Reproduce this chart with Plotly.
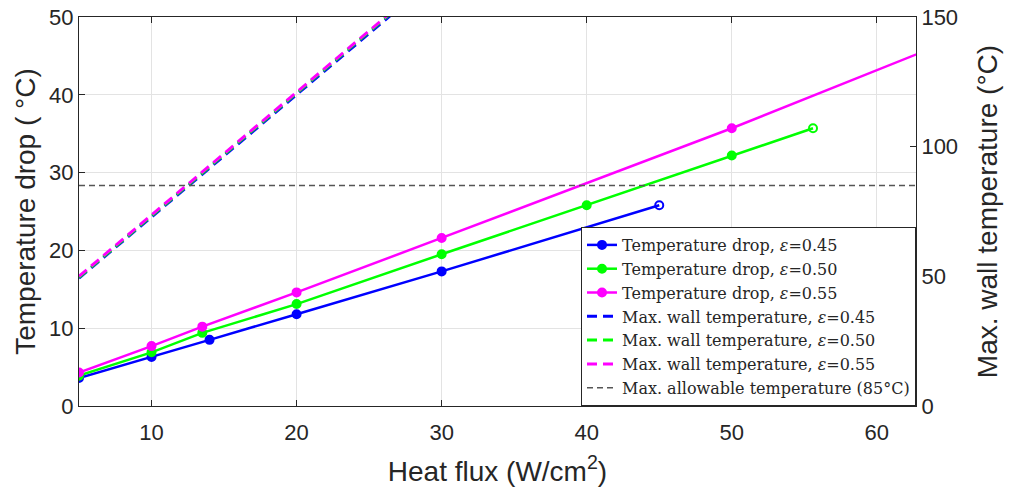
import plotly.graph_objects as go

# ---- data ----
x_045 = [5, 10, 14, 20, 30, 45]
drop_045 = [3.6, 6.3, 8.5, 11.8, 17.3, 25.8]
wall_045 = [49.3, 72.9, 91.8, 120.2, 167.4, 238.0]

x_050 = [5, 10, 13.5, 20, 30, 40, 50, 55.6]
drop_050 = [3.9, 6.9, 9.4, 13.1, 19.5, 25.8, 32.2, 35.7]
wall_050 = [49.6, 73.3, 89.9, 120.6, 168.0, 215.0, 262.0, 289.0]

x_055 = [5, 10, 13.5, 20, 30, 50, 65]
drop_055 = [4.3, 7.7, 10.2, 14.6, 21.6, 35.7, 46.9]
wall_055 = [50.0, 73.7, 90.3, 121.0, 168.4, 263.0, 334.0]

limit_x = [5, 62.7]
limit_temp = 85

eps_labels = ["0.45", "0.50", "0.55"]
colors = ["#0000ff", "#00ff00", "#ff00ff"]

x_ticks = [10, 20, 30, 40, 50, 60]
y_ticks = [0, 10, 20, 30, 40, 50]
y2_ticks = [0, 50, 100, 150]

AX = "#262626"

fig = go.Figure()

series = [(x_045, drop_045, wall_045), (x_050, drop_050, wall_050), (x_055, drop_055, wall_055)]

for (xs, ds, ws), eps, c in zip(series, eps_labels, colors):
    symbols = ["circle"] * (len(xs) - 1) + ["circle-open"]
    fig.add_trace(go.Scatter(
        x=xs, y=ds, mode="lines+markers",
        name=f"Temperature drop, <i>ε</i>=" + eps,
        line=dict(color=c, width=2.5),
        marker=dict(symbol=symbols, size=8, color=c, line=dict(color=c, width=2)),
        yaxis="y",
    ))

for (xs, ds, ws), eps, c in zip(series, eps_labels, colors):
    fig.add_trace(go.Scatter(
        x=xs, y=ws, mode="lines",
        name=f"Max. wall temperature, <i>ε</i>=" + eps,
        line=dict(color=c, width=3, dash="10px,6px"),
        yaxis="y2",
    ))

fig.add_trace(go.Scatter(
    x=limit_x, y=[limit_temp] * len(limit_x), mode="lines",
    name="Max. allowable temperature (85°C)",
    line=dict(color="#555555", width=1.5, dash="6px,4px"),
    yaxis="y2",
))

fig.update_layout(
    width=1013, height=493,
    margin=dict(l=79, r=97, t=17, b=87),
    paper_bgcolor="white", plot_bgcolor="white",
    font=dict(family="Liberation Sans", color=AX, size=22),
    showlegend=True,
    legend=dict(
        x=1, y=0, xanchor="right", yanchor="bottom",
        bgcolor="white", bordercolor=AX, borderwidth=1,
        font=dict(family="DejaVu Serif", size=16, color=AX),
        tracegroupgap=0, itemwidth=30,
    ),
    xaxis=dict(
        range=[5, 62.7], tickvals=x_ticks, ticks="inside", ticklen=6,
        tickcolor=AX, showline=True, linecolor=AX, linewidth=1, mirror="ticks",
        showgrid=True, gridcolor="#e3e3e3", zeroline=False, automargin=False,
        tickfont=dict(size=22), ticklabelstandoff=7,
        title=dict(text="Heat flux (W/cm<sup>2</sup>)", font=dict(size=28), standoff=16),
    ),
    yaxis=dict(
        range=[0, 50], tickvals=y_ticks, ticks="inside", ticklen=6,
        tickcolor=AX, showline=True, linecolor=AX, linewidth=1, automargin=False,
        showgrid=True, gridcolor="#e3e3e3", zeroline=False,
        tickfont=dict(size=22),
        title=dict(text="Temperature drop ( °C)", font=dict(size=28), standoff=5),
    ),
    yaxis2=dict(
        range=[0, 150], tickvals=y2_ticks, overlaying="y", side="right",
        ticks="inside", ticklen=6, tickcolor=AX, showline=True, linecolor=AX,
        linewidth=1, showgrid=False, zeroline=False, automargin=False,
        tickfont=dict(size=22),
        title=dict(text="Max. wall temperature (°C)", font=dict(size=28), standoff=20),
    ),
)

fig.write_html("out.html")
